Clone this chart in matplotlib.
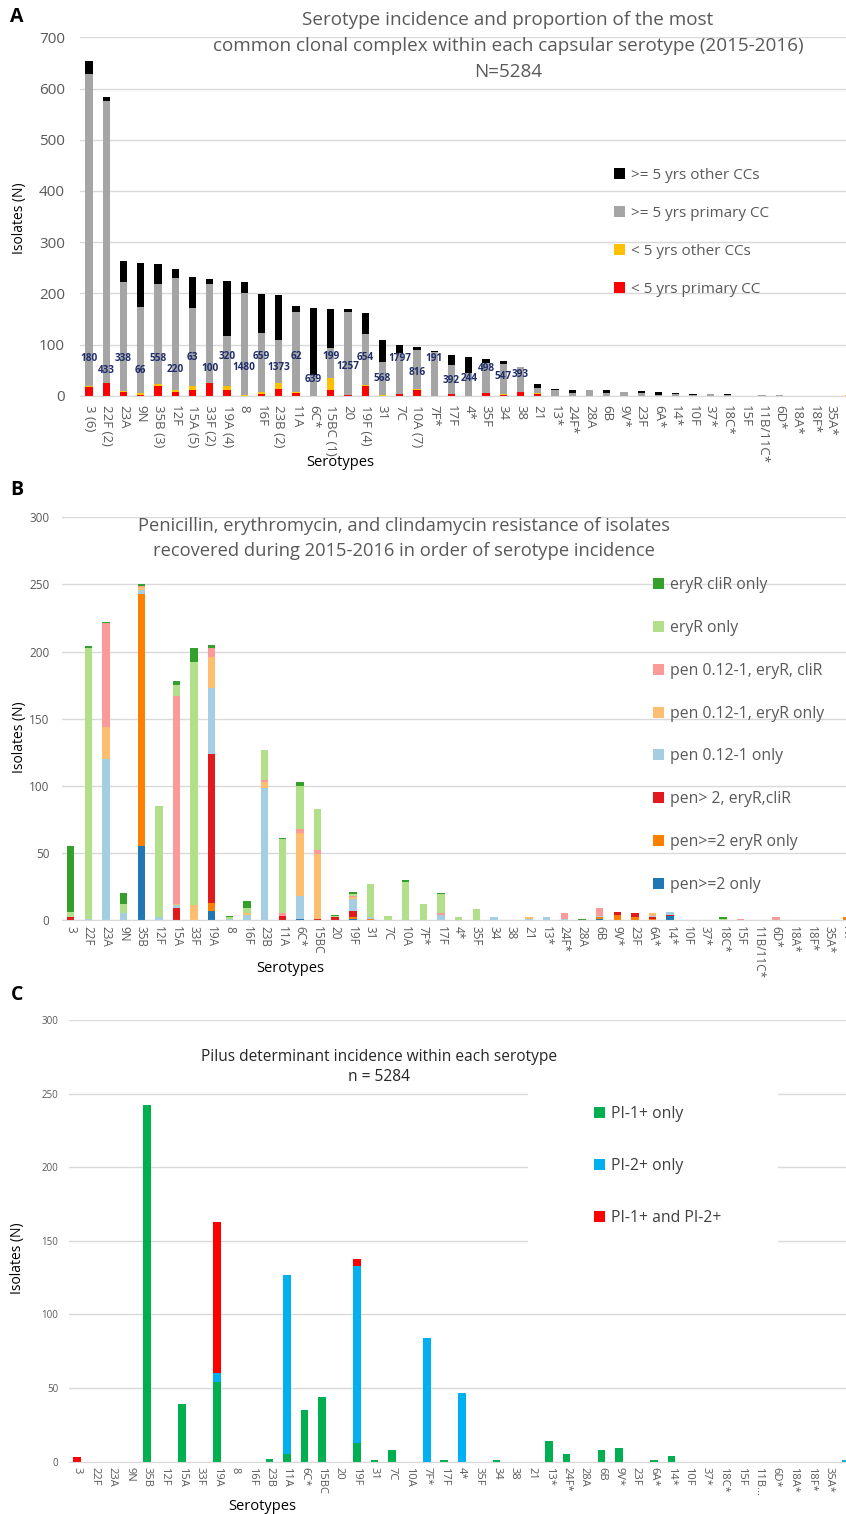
import matplotlib.pyplot as plt
from matplotlib.patches import Patch, Rectangle
import numpy as np

plt.rcParams['font.family'] = ['Open Sans', 'DejaVu Sans']

# ---------------- data ----------------
serotypes = ['3', '22F', '23A', '9N', '35B', '12F', '15A', '33F', '19A', '8',
             '16F', '23B', '11A', '6C*', '15BC', '20', '19F', '31', '7C', '10A',
             '7F*', '17F', '4*', '35F', '34', '38', '21', '13*', '24F*', '28A',
             '6B', '9V*', '23F', '6A*', '14*', '10F', '37*', '18C*', '15F', '11B/11C*',
             '6D*', '18A*', '18F*', '35A*', 'NT']
serotypes_a = ['3 (6)', '22F (2)', '23A', '9N', '35B (3)', '12F', '15A (5)', '33F (2)', '19A (4)', '8',
               '16F', '23B (2)', '11A', '6C*', '15BC (1)', '20', '19F (4)', '31', '7C', '10A (7)',
               '7F*', '17F', '4*', '35F', '34', '38', '21', '13*', '24F*', '28A',
               '6B', '9V*', '23F', '6A*', '14*', '10F', '37*', '18C*', '15F', '11B/11C*',
               '6D*', '18A*', '18F*', '35A*', 'NT']
serotypes_c = serotypes[:39] + ['11B...'] + serotypes[40:]

# Panel A: incidence by age group / clonal complex
lt5_primary = [17, 24, 8, 1, 19, 8, 12, 24, 11, 0, 3, 14, 6, 0, 12, 2, 18, 0, 3, 12,
               0, 3, 0, 6, 1, 8, 3, 0, 0, 0, 0, 0, 0, 0, 0, 0, 0, 0, 0, 0, 0, 0, 0, 0, 0]
lt5_other = [2, 0, 2, 5, 3, 3, 7, 0, 8, 2, 5, 10, 1, 0, 22, 0, 2, 2, 0, 1,
             0, 0, 0, 0, 2, 0, 3, 0, 0, 0, 0, 0, 0, 0, 0, 0, 0, 0, 0, 0, 0, 0, 0, 0, 2]
ge5_primary = [609, 552, 213, 168, 197, 218, 153, 194, 97, 198, 115, 85, 157, 40, 60, 161, 100, 64, 81, 77,
               85, 56, 45, 58, 59, 49, 10, 11, 5, 12, 5, 8, 5, 2, 3, 1, 4, 1, 0, 2, 1, 0, 0, 0, 0]
ge5_other = [26, 7, 40, 86, 38, 18, 60, 9, 108, 22, 76, 87, 11, 132, 75, 6, 42, 43, 16, 5,
             2, 20, 30, 7, 6, 0, 6, 2, 7, 0, 6, 0, 4, 5, 3, 3, 0, 2, 0, 0, 0, 0, 0, 0, 0]
# primary clonal complex (ST) labels and the height they were drawn at
st_labels = ['180', '433', '338', '66', '558', '220', '63', '100', '320', '1480',
             '659', '1373', '62', '639', '199', '1257', '654', '568', '1797', '816',
             '191', '392', '244', '498', '547', '393']
st_label_y = [73, 49, 72, 49, 73, 52, 74, 53, 76, 55, 76, 55, 76, 31, 77, 57, 75, 34, 73, 46,
              73, 29, 34, 53, 38, 42]

# Panel B: antibiotic resistance
pen2_only = [0, 0, 0, 0, 55, 0, 0, 0, 7, 0, 0, 0, 0, 1, 0, 0, 1, 0, 0, 0,
             0, 0, 0, 0, 0, 0, 0, 0, 0, 0, 1, 0, 0, 0, 3, 0, 0, 0, 0, 0, 0, 0, 0, 0, 0]
pen2_ery = [0, 0, 0, 0, 188, 0, 0, 0, 6, 0, 0, 0, 0, 0, 0, 0, 1, 1, 0, 0,
            0, 0, 0, 0, 0, 0, 0, 0, 0, 0, 1, 4, 2, 1, 0, 0, 0, 0, 0, 0, 0, 0, 0, 0, 2]
pen2_ery_cli = [2, 0, 0, 0, 0, 0, 9, 0, 111, 0, 0, 0, 3, 0, 1, 2, 5, 0, 0, 0,
                0, 0, 0, 0, 0, 0, 0, 0, 0, 0, 0, 2, 3, 1, 1, 0, 0, 0, 0, 0, 0, 0, 0, 0, 0]
pen012_only = [0, 1, 120, 5, 3, 2, 2, 0, 49, 1, 4, 98, 0, 17, 0, 0, 9, 1, 0, 0,
               0, 4, 0, 0, 2, 0, 1, 2, 1, 0, 1, 0, 0, 1, 2, 0, 0, 0, 0, 0, 0, 0, 0, 0, 0]
pen012_ery = [0, 0, 24, 0, 2, 0, 1, 11, 23, 0, 1, 5, 0, 47, 48, 0, 1, 0, 0, 0,
              0, 0, 0, 0, 0, 0, 1, 0, 0, 0, 0, 0, 0, 2, 0, 0, 0, 0, 0, 0, 0, 0, 0, 0, 0]
pen012_ery_cli = [0, 0, 77, 0, 1, 0, 155, 0, 7, 0, 0, 1, 2, 3, 3, 0, 1, 0, 0, 0,
                  0, 1, 0, 0, 0, 0, 0, 0, 4, 0, 6, 0, 0, 0, 0, 0, 0, 0, 1, 0, 2, 0, 0, 0, 0]
ery_only = [4, 202, 0, 7, 0, 83, 8, 181, 0, 1, 4, 23, 55, 32, 31, 1, 1, 25, 3, 28,
            12, 14, 2, 8, 0, 0, 0, 0, 0, 0, 0, 0, 0, 0, 0, 0, 0, 1, 0, 0, 0, 0, 0, 0, 0]
ery_cli_only = [49, 1, 1, 8, 1, 0, 3, 11, 2, 1, 5, 0, 1, 3, 0, 1, 2, 0, 0, 2,
                0, 1, 0, 0, 0, 0, 0, 0, 0, 1, 0, 0, 0, 0, 0, 0, 0, 1, 0, 0, 0, 0, 0, 0, 0]

# Panel C: pilus determinants
pi1_only = [0, 0, 0, 0, 242, 0, 39, 0, 54, 0, 0, 2, 5, 35, 44, 0, 13, 1, 8, 0,
            0, 1, 0, 0, 1, 0, 0, 14, 5, 0, 8, 9, 0, 1, 4, 0, 0, 0, 0, 0, 0, 0, 0, 0, 0]
pi2_only = [0, 0, 0, 0, 0, 0, 0, 0, 6, 0, 0, 0, 122, 0, 0, 0, 120, 0, 0, 0,
            84, 0, 47, 0, 0, 0, 0, 0, 0, 0, 0, 0, 0, 0, 0, 0, 0, 0, 0, 0, 0, 0, 0, 0, 1]
pi1_pi2 = [3, 0, 0, 0, 0, 0, 0, 0, 103, 0, 0, 0, 0, 0, 0, 0, 5, 0, 0, 0,
           0, 0, 0, 0, 0, 0, 0, 0, 0, 0, 0, 0, 0, 0, 0, 0, 0, 0, 0, 0, 0, 0, 0, 0, 0]

# ---------------- figure ----------------
W, H = 846, 1514
fig = plt.figure(figsize=(W / 100, H / 100), dpi=100)
GREY_TXT = '#595959'
x = np.arange(len(serotypes))


def box(left, right, top, bottom):
    # pixel box -> figure fraction
    return [left / W, 1 - bottom / H, (right - left) / W, (bottom - top) / H]


def stacked(ax, series, colors, width):
    bottom = np.zeros(len(x))
    for vals, col in zip(series, colors):
        ax.bar(x, vals, width, bottom=bottom, color=col, zorder=2)
        bottom += np.array(vals)


def style(ax, labels, ymax, ystep, yfs, xfs, xpad, ypad):
    ax.set_xlim(-0.5, len(labels) - 0.5)
    ax.set_ylim(0, ymax)
    ax.set_yticks(np.arange(0, ymax + 1, ystep))
    ax.set_xticks(x)
    ax.set_xticklabels(labels, rotation=270, fontsize=xfs, color=GREY_TXT, va='top', ha='center')
    ax.tick_params(axis='y', labelsize=yfs, labelcolor=GREY_TXT, length=0, pad=ypad)
    ax.tick_params(axis='x', length=0, pad=xpad)
    ax.grid(axis='y', color='#d9d9d9', lw=1)
    ax.set_axisbelow(True)
    for s in ['top', 'right', 'left']:
        ax.spines[s].set_visible(False)
    ax.spines['bottom'].set_color('#d9d9d9')


def legend(ax, labels, colors, left, top, fs, spacing, color, reverse=True):
    handles = [Patch(facecolor=c, label=l) for l, c in zip(labels, colors)]
    if reverse:
        handles = handles[::-1]
    lg = ax.legend(handles=handles, loc='upper left', bbox_to_anchor=(left / W, 1 - top / H),
                   bbox_transform=fig.transFigure, frameon=False, borderpad=0, borderaxespad=0,
                   handlelength=0.7, handleheight=0.7, handletextpad=0.4,
                   labelspacing=spacing, fontsize=fs, labelcolor=color)
    lg.set_zorder(5)


# ---- Panel A ----
axA = fig.add_axes(box(80.4, 857, 37.3, 395.7))
cols_a = ['#ff0000', '#ffc000', '#a5a5a5', '#000000']
stacked(axA, [lt5_primary, lt5_other, ge5_primary, ge5_other], cols_a, 0.42)
style(axA, serotypes_a, 700, 100, 11, 9.5, 7, 11)
for i, (lab, yy) in enumerate(zip(st_labels, st_label_y)):
    axA.text(i, yy, lab, ha='center', va='center', fontsize=7.2, fontweight='bold',
             color='#1f2d6b', zorder=4)
legend(axA, ['< 5 yrs primary CC', '< 5 yrs other CCs', '>= 5 yrs primary CC', '>= 5 yrs other CCs'],
       cols_a, 614, 168, 11, 1.5, GREY_TXT)
fig.text(508 / W, 1 - 46 / H,
         'Serotype incidence and proportion of the most\n'
         'common clonal complex within each capsular serotype (2015-2016)\nN=5284',
         ha='center', va='center', fontsize=13.6, color=GREY_TXT, linespacing=1.55)
fig.text(19 / W, 1 - 218 / H, 'Isolates (N)', rotation=90, ha='center', va='center', fontsize=10)
fig.text(340 / W, 1 - 463 / H, 'Serotypes', ha='center', va='center', fontsize=10.5)
fig.text(17 / W, 1 - 17 / H, 'A', ha='center', va='center', fontsize=14, fontweight='bold')

# ---- Panel B ----
axB = fig.add_axes(box(61.9, 855.3, 517.3, 920))
cols_b = ['#1f78b4', '#ff7f00', '#e31a1c', '#a6cee3', '#fdbf6f', '#fb9a99', '#b2df8a', '#33a02c']
stacked(axB, [pen2_only, pen2_ery, pen2_ery_cli, pen012_only, pen012_ery, pen012_ery_cli,
              ery_only, ery_cli_only], cols_b, 0.42)
style(axB, serotypes, 300, 50, 8.5, 8.5, 4, 9)
legend(axB, ['pen>=2 only', 'pen>=2 eryR only', 'pen> 2, eryR,cliR', 'pen 0.12-1 only',
             'pen 0.12-1, eryR only', 'pen 0.12-1, eryR, cliR', 'eryR only', 'eryR cliR only'],
       cols_b, 653, 577, 11.3, 1.71, GREY_TXT)
fig.text(404 / W, 1 - 538.5 / H,
         'Penicillin, erythromycin, and clindamycin resistance of isolates\n'
         'recovered during 2015-2016 in order of serotype incidence',
         ha='center', va='center', fontsize=13.2, color=GREY_TXT, linespacing=1.45)
fig.text(19 / W, 1 - 737 / H, 'Isolates (N)', rotation=90, ha='center', va='center', fontsize=10)
fig.text(290 / W, 1 - 968 / H, 'Serotypes', ha='center', va='center', fontsize=10.5)
fig.text(17 / W, 1 - 490 / H, 'B', ha='center', va='center', fontsize=14, fontweight='bold')

# ---- Panel C ----
axC = fig.add_axes(box(68.6, 854.8, 1020, 1461.7))
cols_c = ['#00b050', '#00b0f0', '#ff0000']
stacked(axC, [pi1_only, pi2_only, pi1_pi2], cols_c, 0.44)
style(axC, serotypes_c, 300, 50, 7, 8, 3.5, 7.5)
axC.add_patch(Rectangle((528 / W, 1 - 1247 / H), 250 / W, 160 / H, transform=fig.transFigure,
                        facecolor='white', edgecolor='none', zorder=0.8))
legend(axC, ['PI-1+ only', 'PI-2+ only', 'PI-1+ and PI-2+'], cols_c, 594, 1106, 11.3, 2.3,
       '#404040', reverse=False)
fig.text(379 / W, 1 - 1067 / H, 'Pilus determinant incidence within each serotype\nn = 5284',
         ha='center', va='center', fontsize=11.2, color='#262626', linespacing=1.4)
fig.text(18 / W, 1 - 1258 / H, 'Isolates (N)', rotation=90, ha='center', va='center', fontsize=10)
fig.text(262 / W, 1 - 1507 / H, 'Serotypes', ha='center', va='center', fontsize=10.5)
fig.text(17 / W, 1 - 995 / H, 'C', ha='center', va='center', fontsize=14, fontweight='bold')

fig.savefig('out.png', dpi=100)
